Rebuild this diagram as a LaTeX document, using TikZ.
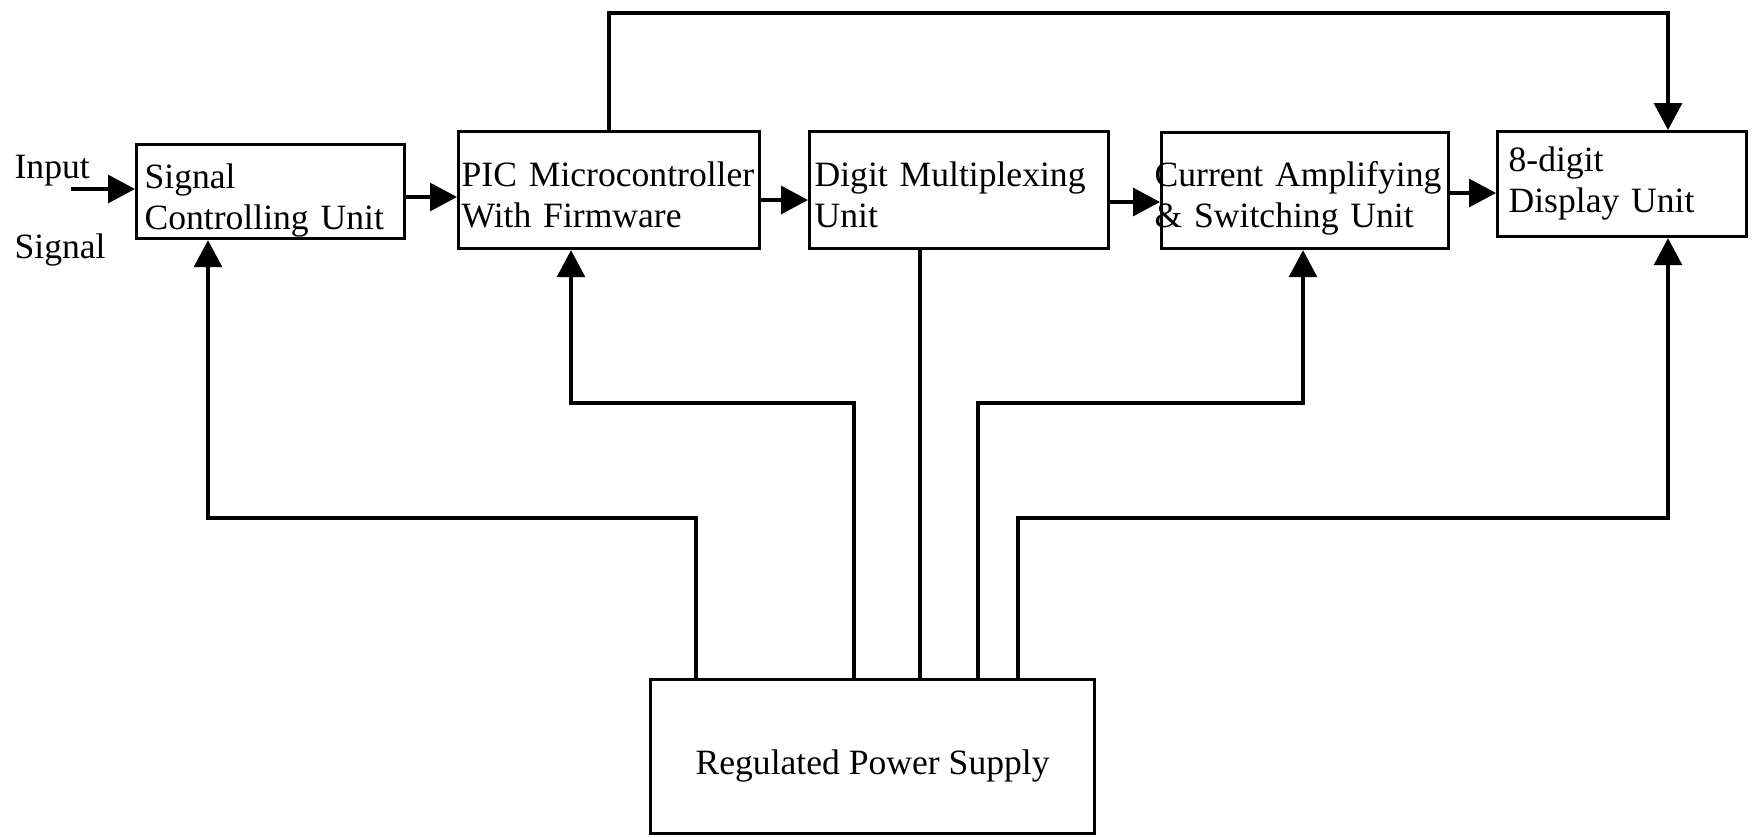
\documentclass[tikz,border=0pt]{standalone}
\usepackage{fontspec}
\setmainfont{Liberation Serif}
\usetikzlibrary{arrows.meta}
\begin{document}
\begin{tikzpicture}[x=0.5pt,y=-0.5pt,
  line width=1.6pt,
  blk/.style={draw, line width=1.6pt, rectangle, anchor=north west, inner ysep=0pt,
    align=left, font=\fontsize{17.8pt}{20.5pt}\selectfont},
  arr/.style={-{Triangle[length=13.5pt,width=14pt]}},
  lbl/.style={inner sep=0pt, anchor=base west, font=\fontsize{17.8pt}{20.5pt}\selectfont}]
\useasboundingbox (0,0) rectangle (1752,837);

% blocks
\node[blk, minimum width=134pt, minimum height=47pt, inner xsep=4pt, text width=126pt,
      text height=22pt, text depth=25pt] (b1) at (135,143) {Signal\\Controlling Unit};
\node[blk, minimum width=150.5pt, minimum height=58.5pt, inner xsep=1.5pt, text width=147.5pt,
      text height=27.5pt, text depth=31pt] (b2) at (457,130) {PIC Microcontroller\\With Firmware};
\node[blk, minimum width=149.5pt, minimum height=58.5pt, inner xsep=2.5pt, text width=144.5pt,
      text height=27.5pt, text depth=31pt] (b3) at (808,130) {Digit Multiplexing\\Unit};
\node[blk, minimum width=143.5pt, minimum height=58pt, inner xsep=0pt, text width=143.5pt,
      text height=27pt, text depth=31pt] (b4) at (1160,131) {\hspace*{-3.5pt}Current Amplifying\\\hspace*{-3.5pt}\& Switching Unit};
\node[blk, minimum width=124.5pt, minimum height=52.5pt, inner xsep=5.5pt, text width=113.5pt,
      text height=20pt, text depth=32.5pt] (b5) at (1496,130) {8-digit\\Display Unit};
\node[blk, align=center, minimum width=222pt, minimum height=77pt, inner xsep=0pt,
      text height=47.5pt, text depth=29.5pt] (psu) at (649,678) {Regulated Power Supply};

% input labels
\node[lbl] (inp) at (13,178) {Input};
\node[lbl] (sig) at (13,258) {Signal};
\coordinate (inStart) at (71,189);

% signal chain
\draw[arr] (inStart) -- (b1.west |- inStart);
\draw[arr] (b1.east |- 0,197) -- (b2.west |- 0,197);
\draw[arr] (b2.east |- 0,200) -- (b3.west |- 0,200);
\draw[arr] (b3.east |- 0,202) -- (b4.west |- 0,202);
\draw[arr] (b4.east |- 0,193) -- (b5.west |- 0,193);

% top feedback
\draw[arr] (b2.north -| 609,0) |- (1668,13) -- (b5.north -| 1668,0);

% power distribution
\draw[arr] (psu.north -| 696,0) -- (696,518) -- (208,518) -- (b1.south -| 208,0);
\draw[arr] (psu.north -| 854,0) -- (854,403) -- (571,403) -- (b2.south -| 571,0);
\draw (psu.north -| 920,0) -- (b3.south -| 920,0);
\draw[arr] (psu.north -| 978,0) -- (978,403) -- (1303,403) -- (b4.south -| 1303,0);
\draw[arr] (psu.north -| 1018,0) -- (1018,518) -- (1668,518) -- (b5.south -| 1668,0);
\end{tikzpicture}
\end{document}
